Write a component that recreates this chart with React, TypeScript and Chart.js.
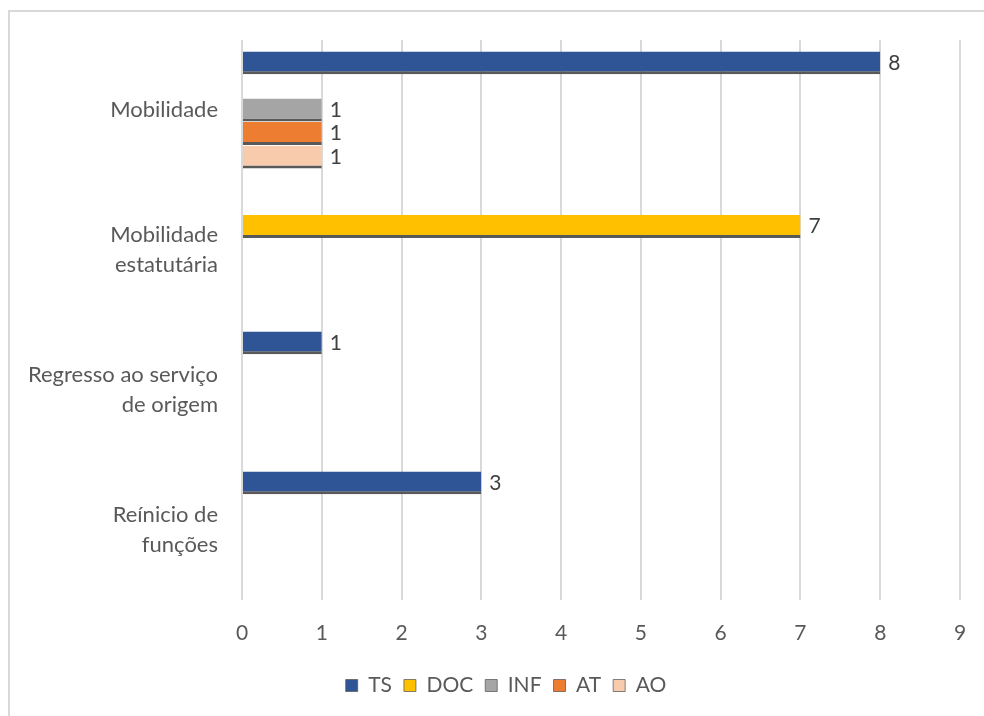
import React, { useEffect, useRef } from 'react';
import { Chart, registerables } from 'chart.js';
Chart.register(...registerables);

const categories: string[][] = [
  ['Mobilidade'],
  ['Mobilidade', 'estatutária'],
  ['Regresso ao serviço', 'de origem'],
  ['Reínicio de', 'funções'],
];
const seriesNames = ['TS', 'DOC', 'INF', 'AT', 'AO'];
const tsValues = [8, null, 1, 3];
const docValues = [null, 7, null, null];
const infValues = [1, null, null, null];
const atValues = [1, null, null, null];
const aoValues = [1, null, null, null];
const seriesColors = ['#2F5597', '#FFC000', '#A5A5A5', '#ED7D31', '#F8CBAD'];
const xMin = 0;
const xMax = 9;

const FONT = 'Lato, "Liberation Sans", sans-serif';
const TEXT = '#595959';

const valueLabels = {
  id: 'valueLabels',
  afterDatasetsDraw(chart: any) {
    const ctx = chart.ctx;
    ctx.save();
    ctx.font = `21px ${FONT}`;
    ctx.fillStyle = '#404040';
    ctx.textAlign = 'left';
    ctx.textBaseline = 'middle';
    chart.data.datasets.forEach((ds: any, di: number) => {
      const meta = chart.getDatasetMeta(di);
      meta.data.forEach((el: any, i: number) => {
        const v = ds.data[i];
        if (v === null || v === undefined) return;
        ctx.fillText(String(v), el.x + 8, el.y);
      });
    });
    ctx.restore();
  },
};

const legendShift = {
  id: 'legendShift',
  afterLayout(chart: any) {
    const l = chart.legend;
    if (l) {
      l.left += 26;
      l.right += 26;
    }
  },
};

export default function App() {
  const ref = useRef<HTMLCanvasElement | null>(null);
  useEffect(() => {
    if (!ref.current) return;
    const all = [tsValues, docValues, infValues, atValues, aoValues];
    const chart = new Chart(ref.current, {
      type: 'bar',
      data: {
        labels: categories,
        datasets: seriesNames.map((name, i) => ({
          label: name,
          data: all[i],
          backgroundColor: seriesColors[i],
          borderColor: '#595959',
          borderWidth: { top: 0, left: 0, right: 0, bottom: 3 },
          borderSkipped: false,
          categoryPercentage: 0.84,
          barPercentage: 0.97,
        })),
      },
      options: {
        indexAxis: 'y',
        animation: false,
        responsive: false,
        maintainAspectRatio: false,
        layout: { padding: { top: 40, right: 24, left: 0, bottom: 10 } },
        scales: {
          x: {
            min: xMin,
            max: xMax,
            ticks: {
              stepSize: 1,
              color: TEXT,
              font: { family: FONT, size: 21 },
              padding: 21,
            },
            grid: { color: '#d9d9d9', lineWidth: 2, drawTicks: false },
            border: { display: false },
            afterFit(scale: any) {
              scale.height = 63;
              scale.paddingLeft = 0;
              scale.paddingRight = 0;
            },
          },
          y: {
            ticks: {
              color: TEXT,
              font: { family: FONT, size: 22, lineHeight: 1.36 },
              padding: 24,
            },
            grid: { display: false, drawTicks: false },
            border: { display: false },
            afterFit(scale: any) {
              scale.width = 242;
              scale.paddingTop = 0;
              scale.paddingBottom = 0;
            },
          },
        },
        plugins: {
          legend: {
            position: 'bottom',
            labels: {
              color: TEXT,
              font: { family: FONT, size: 21 },
              boxWidth: 12,
              boxHeight: 12,
              padding: 12,
            },
          },
          tooltip: { enabled: false },
        },
      },
      plugins: [valueLabels, legendShift],
    } as any);
    return () => chart.destroy();
  }, []);
  return (
    <div>
      <div
        style={{
          position: 'fixed',
          left: 8,
          top: 10,
          width: 976,
          height: 706,
          borderLeft: '2px solid #d9d9d9',
          borderTop: '2px solid #d9d9d9',
          boxSizing: 'border-box',
        }}
      />
      <canvas
        ref={ref}
        width={984}
        height={716}
        style={{ position: 'fixed', left: 0, top: 0, width: 984, height: 716 }}
      />
    </div>
  );
}
